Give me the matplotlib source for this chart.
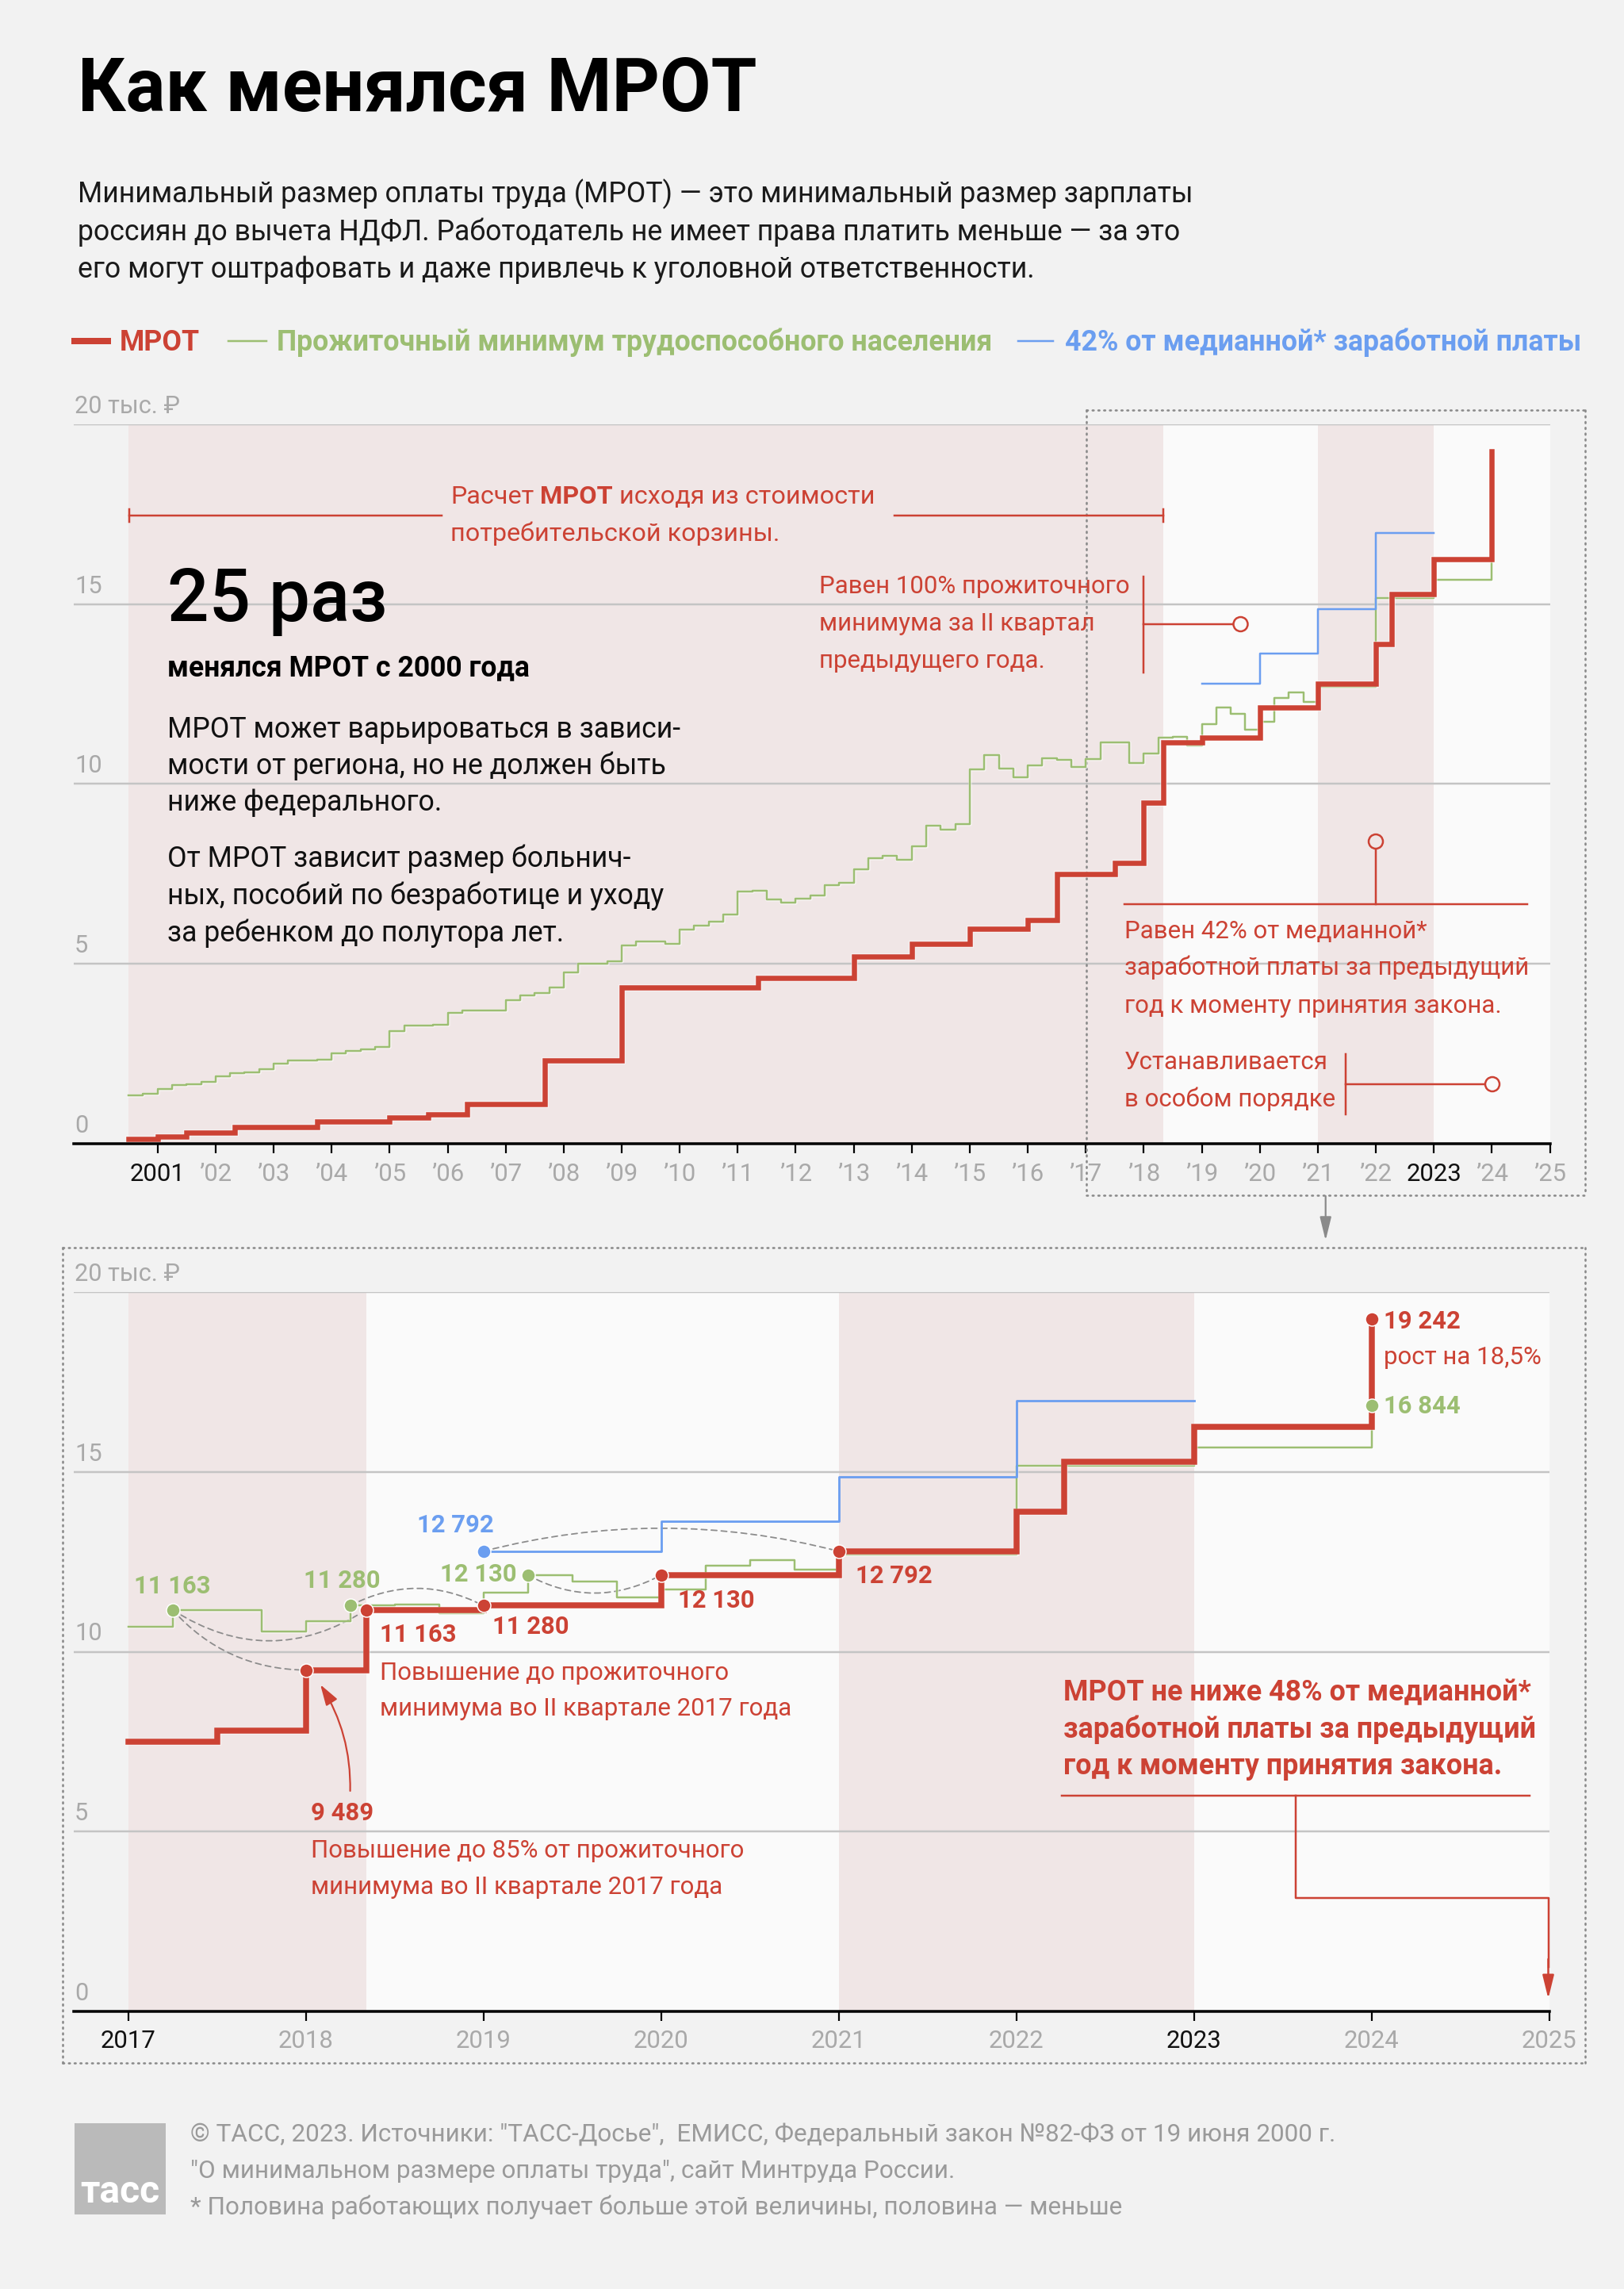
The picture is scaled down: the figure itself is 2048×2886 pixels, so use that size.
import matplotlib
matplotlib.use('Agg')
import matplotlib.pyplot as plt
import matplotlib.transforms as mtransforms
from matplotlib.lines import Line2D
from matplotlib.patches import Rectangle, FancyArrowPatch, Circle
import matplotlib.patheffects as pe

plt.rcParams['font.family'] = ['Roboto', 'DejaVu Sans']

# ---------------- DATA ----------------
# MROT (rubles) and the dates (decimal years) it came into force
mrot_dates = [2000.5, 2001.0, 2001.5, 2002.33, 2003.75, 2005.0, 2005.67, 2006.33,
              2007.67, 2009.0, 2011.35, 2013.0, 2014.0, 2015.0, 2016.0, 2016.5,
              2017.5, 2018.0, 2018.34, 2019.0, 2020.0, 2021.0, 2022.0, 2022.27,
              2023.0, 2024.0]
mrot_values = [132, 200, 300, 450, 600, 720, 800, 1100,
               2300, 4330, 4611, 5205, 5554, 5965, 6204, 7500,
               7800, 9489, 11163, 11280, 12130, 12792, 13890, 15279,
               16242, 19242]

# Subsistence minimum of working-age population, quarterly (rubles)
pm_years = [2000, 2001, 2002, 2003, 2004, 2005, 2006, 2007, 2008, 2009, 2010,
            2011, 2012, 2013, 2014, 2015, 2016, 2017, 2018, 2019, 2020]
pm_quarterly = [
    [None, None, 1339, 1390],
    [1509, 1633, 1655, 1706],
    [1868, 1950, 1970, 2060],
    [2220, 2320, 2320, 2340],
    [2500, 2580, 2620, 2690],
    [3130, 3290, 3290, 3300],
    [3640, 3710, 3710, 3710],
    [3990, 4110, 4190, 4330],
    [4760, 5010, 5010, 5070],
    [5500, 5610, 5620, 5560],
    [5960, 6070, 6160, 6360],
    [7000, 7020, 6780, 6700],
    [6820, 6900, 7190, 7260],
    [7630, 7930, 8010, 7890],
    [8270, 8840, 8730, 8880],
    [10404, 10792, 10436, 10187],
    [10524, 10722, 10678, 10466],
    [10701, 11163, 11160, 10573],
    [10842, 11280, 11310, 11069],
    [11653, 12130, 11942, 11510],
    [11731, 12392, 12536, 12273],
]
pm_annual_years = [2021, 2022, 2023, 2024]
pm_annual_values = [12702, 15172, 15669, 16844]

# 42% of median wage
med_dates = [2019, 2020, 2021, 2022]
med_values = [12792, 13617, 14865, 16970]
med_end = 2023.0

# Periods of MROT calculation rules
regime_bounds = [2000.5, 2018.34, 2021.0, 2023.0, 2025.0]

top_ticks = [2001, 2002, 2003, 2004, 2005, 2006, 2007, 2008, 2009, 2010, 2011, 2012,
             2013, 2014, 2015, 2016, 2017, 2018, 2019, 2020, 2021, 2022, 2023, 2024, 2025]
top_tick_labels = ['2001', '’02', '’03', '’04', '’05', '’06', '’07', '’08', '’09', '’10',
                   '’11', '’12', '’13', '’14', '’15', '’16', '’17', '’18', '’19', '’20',
                   '’21', '’22', '2023', '’24', '’25']
top_dark = ['2001', '2023']
bot_ticks = [2017, 2018, 2019, 2020, 2021, 2022, 2023, 2024, 2025]
bot_tick_labels = ['2017', '2018', '2019', '2020', '2021', '2022', '2023', '2024', '2025']
bot_dark = ['2017', '2023']
y_ticks = [0, 5, 10, 15, 20]
y_labels = ['0', '5', '10', '15', '20 тыс. ₽']

# ---------------- STYLE ----------------
W, H, DPI = 2048, 2886, 100
BG = '#f2f2f2'
WHITE = '#fafafa'
PINK = '#f0e6e6'
RED = '#cc4234'
GREEN = '#9cbe72'
BLUE = '#6b9ef0'
GRID = '#c4c4c4'
GRAYTXT = '#a9a9a9'
DARK = '#111111'

fig = plt.figure(figsize=(W / DPI, H / DPI), dpi=DPI, facecolor=BG)
TP = mtransforms.Affine2D().scale(1 / W, -1 / H).translate(0, 1) + fig.transFigure
R = fig.canvas.get_renderer()


def pt(px):
    return px * 0.72


def width_of(s, size, weight='normal'):
    t = fig.text(0, 0, s, fontsize=size, fontweight=weight)
    w = t.get_window_extent(R).width
    t.remove()
    return w


def fit(s, target, weight='normal'):
    return 20 * target / width_of(s, 20, weight)


def T(x, y, s, size, color=DARK, weight='normal', ha='left', **kw):
    return fig.text(x, y, s, transform=TP, fontsize=size, color=color,
                    fontweight=weight, ha=ha, va='baseline', **kw)


def rich_width(parts, size):
    sp = width_of('x x', size) - width_of('xx', size)
    tot = 0
    for s, w in parts:
        core = s.strip(' ')
        tot += (len(s) - len(core)) * sp + width_of(core, size, w)
    return tot


def rich(x, y, parts, size, color):
    sp = width_of('x x', size) - width_of('xx', size)
    for s, w in parts:
        lead = len(s) - len(s.lstrip(' '))
        trail = len(s) - len(s.rstrip(' '))
        core = s.strip(' ')
        x += lead * sp
        t = T(x, y, core, size, color, w)
        x += t.get_window_extent(R).width + trail * sp


def L(xs, ys, color, lw_px, **kw):
    fig.add_artist(Line2D(xs, ys, transform=TP, color=color, lw=pt(lw_px), **kw))


def ring(x, y, fc):
    fig.add_artist(Circle((x, y), 9, transform=TP, fc=fc, ec=RED, lw=pt(2.5), zorder=5))


def pm_series():
    d, v = [], []
    for yr, qs in zip(pm_years, pm_quarterly):
        for i, val in enumerate(qs):
            if val is None:
                continue
            d.append(yr + i / 4)
            v.append(val)
    return d + pm_annual_years, v + pm_annual_values


def clip_start(d, v, x0):
    i = max(j for j in range(len(d)) if d[j] <= x0)
    return [x0] + list(d[i + 1:]), list(v[i:])


def k(vals):
    return [x / 1000 for x in vals]


def make_axes(left, right, top, bottom, xlim, shade_start, ticks, labels, dark, lab_base):
    ax = fig.add_axes([left / W, 1 - bottom / H, (right - left) / W, (bottom - top) / H])
    ax.set_xlim(*xlim)
    ax.set_ylim(0, 20)
    ax.set_facecolor(BG)
    for s in ['top', 'right', 'left']:
        ax.spines[s].set_visible(False)
    ax.spines['bottom'].set_linewidth(pt(3.5))
    ax.spines['bottom'].set_color('black')
    ax.spines['bottom'].set_zorder(6)
    ax.set_yticks([])
    ax.set_xticks(ticks)
    ax.set_xticklabels([''] * len(ticks))
    ax.tick_params(axis='x', length=pt(12), width=pt(2.2), color='black', direction='out')
    cols = [PINK, WHITE, PINK, WHITE]
    for a, b, c in zip(regime_bounds[:-1], regime_bounds[1:], cols):
        lo = max(a, shade_start)
        if lo < b:
            ax.axvspan(lo, b, color=c, lw=0, zorder=0)
    for v in y_ticks[1:]:
        ax.axhline(v, color=GRID, lw=pt(2.5), zorder=1)
    tsize = fit('2001', 70)
    bl = mtransforms.blended_transform_factory(ax.transData, TP)
    for x, lab in zip(ticks, labels):
        ax.text(x, lab_base, lab, transform=bl, ha='center', va='baseline', fontsize=tsize,
                color=DARK if lab in dark else GRAYTXT, clip_on=False)
    ysize = fit('20 тыс. ₽', 133)
    yb = mtransforms.offset_copy(mtransforms.blended_transform_factory(TP, ax.transData),
                                 fig=fig, x=0, y=14, units='dots')
    for v, lab in zip(y_ticks, y_labels):
        ax.text(94, v, lab, transform=yb, ha='left', va='baseline', fontsize=ysize,
                color=GRAYTXT, clip_on=False)
    return ax


halo = [pe.Stroke(linewidth=pt(9), foreground='white', alpha=0.45), pe.Normal()]
halo_g = [pe.Stroke(linewidth=pt(4.5), foreground='white', alpha=0.5), pe.Normal()]

pm_d, pm_v = pm_series()
bl_d = med_dates + [med_end]
bl_v = med_values + [med_values[-1]]

# ---------------- TOP CHART ----------------
ax1 = make_axes(93, 1954.5, 535, 1441.7, (1999.555, 2025), regime_bounds[0],
                top_ticks, top_tick_labels, top_dark, 1489)
ax1.step(pm_d, k(pm_v), where='post', color=GREEN, lw=pt(2.5), zorder=3, path_effects=halo_g)
ax1.step(bl_d, k(bl_v), where='post', color=BLUE, lw=pt(2.5), zorder=3)
ax1.step(mrot_dates, k(mrot_values), where='post', color=RED, lw=pt(6.5), zorder=4,
         solid_joinstyle='miter', path_effects=halo)

# dotted zoom boxes
box_kw = dict(color='#8a8a8a', lw=pt(2.6), linestyle=(0, (0.6, 2.2)), dash_capstyle='round')
for xs, ys in [([1369.6, 1999.3], [517.3, 517.3]), ([1999.3, 1999.3], [517.3, 1506.7]),
               ([1369.6, 1999.3], [1506.7, 1506.7]), ([1369.6, 1369.6], [517.3, 1506.7])]:
    ax1.add_artist(Line2D(xs, ys, transform=TP, clip_on=False, zorder=2, **box_kw))
for xs, ys in [([79, 1999.3], [1572.7, 1572.7]), ([1999.3, 1999.3], [1572.7, 2600.7]),
               ([79, 1999.3], [2600.7, 2600.7]), ([79, 79], [1572.7, 2600.7])]:
    fig.add_artist(Line2D(xs, ys, transform=TP, zorder=0.5, **box_kw))
fig.add_artist(FancyArrowPatch((1671.7, 1508), (1671.7, 1564), transform=TP,
                               arrowstyle='-|>,head_length=0.9,head_width=0.22',
                               mutation_scale=20, color='#8a8a8a', lw=pt(2.2),
                               shrinkA=0, shrinkB=0))

# annotations top
asz = fit('Равен 100% прожиточного', 393)
calc_parts = [('Расчет ', 'normal'), ('МРОТ', 'bold'), (' исходя из стоимости', 'normal')]
csz = asz * 549 / rich_width(calc_parts, asz)
csz = (csz + asz) / 2
rich(568, 635, calc_parts, csz, RED)
T(568, 682, 'потребительской корзины.', csz, RED)
L([163, 557], [650, 650], RED, 2.5)
L([1128, 1467], [650, 650], RED, 2.5)
L([163, 163], [642, 658], RED, 2.5)
L([1467, 1467], [642, 658], RED, 2.5)

big = fit('25 раз', 277, 'medium')
T(211, 783, '25 раз', big, 'black', 'medium')
T(211, 852, 'менялся МРОТ с 2000 года', fit('менялся МРОТ с 2000 года', 456, 'bold'), 'black', 'bold')
bsz = fit('МРОТ может варьироваться в зависи-', 647)
for y, s in zip([930, 976, 1022, 1093, 1140, 1187],
                ['МРОТ может варьироваться в зависи-', 'мости от региона, но не должен быть',
                 'ниже федерального.', 'От МРОТ зависит размер больнич-',
                 'ных, пособий по безработице и уходу', 'за ребенком до полутора лет.']):
    T(211, y, s, bsz, DARK)

for y, s in zip([748, 795, 842], ['Равен 100% прожиточного', 'минимума за II квартал',
                                  'предыдущего года.']):
    T(1033, y, s, asz, RED)
L([1442, 1442], [727, 848], RED, 2.5)
L([1442, 1555], [787, 787], RED, 2.5)
ring(1564.5, 787, WHITE)

for y, s in zip([1183, 1229, 1277], ['Равен 42% от медианной*', 'заработной платы за предыдущий',
                                     'год к моменту принятия закона.']):
    T(1418, y, s, asz, RED)
L([1418, 1926], [1140, 1140], RED, 2.5)
L([1735, 1735], [1140, 1070], RED, 2.5)
ring(1735, 1061, PINK)

for y, s in zip([1348, 1395], ['Устанавливается', 'в особом порядке']):
    T(1418, y, s, asz, RED)
L([1696.5, 1696.5], [1329, 1405], RED, 2.5)
L([1696.5, 1873], [1367, 1367], RED, 2.5)
ring(1882, 1367, WHITE)

# ---------------- BOTTOM CHART ----------------
x0 = bot_ticks[0]
ax2 = make_axes(93, 1953.8, 1629, 2536, (2016.694, 2025), x0,
                bot_ticks, bot_tick_labels, bot_dark, 2582)
d, v = clip_start(pm_d, pm_v, x0)
ax2.step(d, k(v), where='post', color=GREEN, lw=pt(2.5), zorder=3, path_effects=halo_g)
ax2.step(bl_d, k(bl_v), where='post', color=BLUE, lw=pt(2.8), zorder=3)
d, v = clip_start(mrot_dates, mrot_values, x0)
ax2.step(d, k(v), where='post', color=RED, lw=pt(7.5), zorder=4,
         solid_joinstyle='miter', path_effects=halo)


def val_at(dates, vals, x):
    i = max(j for j in range(len(dates)) if dates[j] <= x)
    return vals[i] / 1000


# dashed arcs linking equal values
arcs = [((2017.25, val_at(pm_d, pm_v, 2017.25)), (2018.0, val_at(mrot_dates, mrot_values, 2018.0)), 0.22),
        ((2017.25, val_at(pm_d, pm_v, 2017.25)), (2018.34, val_at(mrot_dates, mrot_values, 2018.34)), 0.32),
        ((2018.25, val_at(pm_d, pm_v, 2018.25)), (2019.0, val_at(mrot_dates, mrot_values, 2019.0)), -0.26),
        ((2019.25, val_at(pm_d, pm_v, 2019.25)), (2020.0, val_at(mrot_dates, mrot_values, 2020.0)), 0.27),
        ((2019.0, val_at(bl_d, bl_v, 2019.0)), (2021.0, val_at(mrot_dates, mrot_values, 2021.0)), -0.13)]
for a, b, r in arcs:
    ax2.add_patch(FancyArrowPatch(a, b, connectionstyle=f'arc3,rad={r}', arrowstyle='-',
                                  linestyle=(0, (4, 3)), color='#8c8c8c', lw=pt(1.8),
                                  shrinkA=0, shrinkB=0, zorder=2.5))

dot_kw = dict(ms=pt(17), mec='white', mew=pt(1.5), zorder=7, ls='none', marker='o')
red_pts = [2018.0, 2018.34, 2019.0, 2020.0, 2021.0, 2024.0]
ax2.plot(red_pts, [val_at(mrot_dates, mrot_values, x) for x in red_pts], color=RED, **dot_kw)
green_pts = [2017.25, 2018.25, 2019.25, 2024.0]
ax2.plot(green_pts, [val_at(pm_d, pm_v, x) for x in green_pts], color=GREEN, **dot_kw)
ax2.plot([2019.0], [val_at(bl_d, bl_v, 2019.0)], color=BLUE, **dot_kw)

lsz = fit('11 163', 97, 'bold')
T(169, 2009, '11 163', lsz, GREEN, 'bold')
T(383, 2002, '11 280', lsz, GREEN, 'bold')
T(526, 1932, '12 792', lsz, BLUE, 'bold')
T(555, 1994, '12 130', lsz, GREEN, 'bold')
T(479, 2070, '11 163', lsz, RED, 'bold')
T(621, 2060, '11 280', lsz, RED, 'bold')
T(855, 2027, '12 130', lsz, RED, 'bold')
T(1079, 1996, '12 792', lsz, RED, 'bold')
T(1745, 1675, '19 242', lsz, RED, 'bold')
T(1745, 1782, '16 844', lsz, GREEN, 'bold')
T(1745, 1720, 'рост на 18,5%', asz, RED)
T(392, 2295, '9 489', lsz, RED, 'bold')

T(479, 2118, 'Повышение до прожиточного', asz, RED)
T(479, 2163, 'минимума во II квартале 2017 года', asz, RED)
T(392, 2342, 'Повышение до 85% от прожиточного', asz, RED)
T(392, 2388, 'минимума во II квартале 2017 года', asz, RED)

fig.add_artist(FancyArrowPatch((441.6, 2258), (404, 2124), transform=TP,
                               connectionstyle='arc3,rad=0.15',
                               arrowstyle='-|>,head_length=0.8,head_width=0.25',
                               mutation_scale=20, color=RED, lw=pt(2.2),
                               shrinkA=0, shrinkB=0, zorder=6))

msz = fit('МРОТ не ниже 48% от медианной*', 587, 'bold')
for y, s in zip([2144, 2191, 2237], ['МРОТ не ниже 48% от медианной*',
                                     'заработной платы за предыдущий',
                                     'год к моменту принятия закона.']):
    T(1341, y, s, msz, RED, 'bold')
L([1339, 1929], [2264, 2264], RED, 2.5)
L([1633.6, 1633.6, 1952.5, 1952.5], [2264, 2393, 2393, 2480], RED, 2.5,
  solid_joinstyle='round')
fig.add_artist(FancyArrowPatch((1952.5, 2470), (1952.5, 2520), transform=TP,
                               arrowstyle='-|>,head_length=0.9,head_width=0.22',
                               mutation_scale=20, color=RED, lw=pt(2.5),
                               shrinkA=0, shrinkB=0, zorder=6))

# ---------------- HEADER ----------------
T(98, 140, 'Как менялся МРОТ', fit('Как менялся МРОТ', 853, 'bold'), 'black', 'bold')
ssz = fit('Минимальный размер оплаты труда (МРОТ) — это минимальный размер зарплаты', 1407)
for y, s in zip([255, 303, 350],
                ['Минимальный размер оплаты труда (МРОТ) — это минимальный размер зарплаты',
                 'россиян до вычета НДФЛ. Работодатель не имеет права платить меньше — за это',
                 'его могут оштрафовать и даже привлечь к уголовной ответственности.']):
    T(98, y, s, ssz, '#1a1a1a')

gsz = fit('Прожиточный минимум трудоспособного населения', 899, 'bold')
L([94, 136], [430, 430], RED, 8)
T(151, 442, 'МРОТ', gsz, RED, 'bold')
L([288, 336], [430, 430], GREEN, 2.5)
T(349, 442, 'Прожиточный минимум трудоспособного населения', gsz, GREEN, 'bold')
L([1284, 1328], [430, 430], BLUE, 2.5)
T(1343, 442, '42% от медианной* заработной платы', gsz, BLUE, 'bold')

# ---------------- FOOTER ----------------
fig.add_artist(Rectangle((93.5, 2677), 115, 115, transform=TP, fc='#bababa', ec='none'))
T(151, 2777, 'тасс', fit('тасс', 100, 'bold'), 'white', 'bold', ha='center')
fsz = fit('* Половина работающих получает больше этой величины, половина — меньше', 1178)
for y, s in zip([2700, 2746, 2792],
                ['© ТАСС, 2023. Источники: "ТАСС-Досье",  ЕМИСС, Федеральный закон №82-ФЗ от 19 июня 2000 г.',
                 '"О минимальном размере оплаты труда", сайт Минтруда России.',
                 '* Половина работающих получает больше этой величины, половина — меньше']):
    T(240, y, s, fsz, '#9a9a9a')

fig.savefig('out.png', dpi=DPI, facecolor=BG)
